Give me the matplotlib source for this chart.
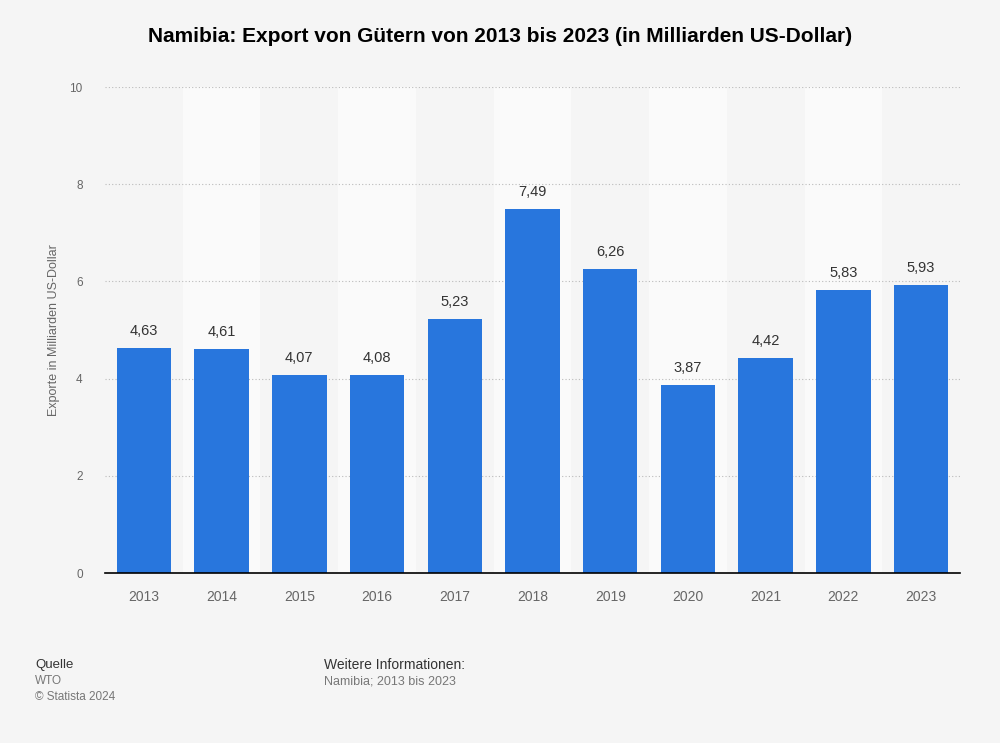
import matplotlib.pyplot as plt

# Daten
years = ['2013', '2014', '2015', '2016', '2017', '2018', '2019', '2020', '2021', '2022', '2023']
exports = [4.63, 4.61, 4.07, 4.08, 5.23, 7.49, 6.26, 3.87, 4.42, 5.83, 5.93]
yticks = [0, 2, 4, 6, 8, 10]

plt.rcParams['font.family'] = ['Liberation Sans', 'DejaVu Sans']

bg = '#f5f5f5'
fig = plt.figure(figsize=(10, 7.43), dpi=100, facecolor=bg)
ax = fig.add_axes([0.105, 0.2288, 0.855, 0.6541])
ax.set_facecolor(bg)

x = list(range(len(years)))

# abwechselnd helle Spalten
for i in x:
    if i % 2 == 1:
        ax.axvspan(i - 0.5, i + 0.5, color='#fafafa', zorder=0, lw=0)

ax.bar(x, exports, width=0.7, color='#2876dd', zorder=3)

for xi, v in zip(x, exports):
    ax.text(xi, v + 0.2, f'{v:.2f}'.replace('.', ','), ha='center', va='bottom',
            fontsize=10.5, color='#333333', zorder=4)

ax.set_xlim(-0.5, len(years) - 0.5)
ax.set_ylim(0, 10)
ax.set_yticks(yticks)
ax.set_yticklabels([str(t) for t in yticks])
ax.set_xticks(x)
ax.set_xticklabels(years)
ax.tick_params(axis='both', length=0, labelsize=10, labelcolor='#666666')
ax.tick_params(axis='y', pad=16, labelsize=8.5)
ax.tick_params(axis='x', pad=12)

ax.grid(axis='y', color='#bbbbbb', linestyle=(0, (1, 2)), linewidth=0.8, zorder=1)
for s in ['top', 'right', 'left']:
    ax.spines[s].set_visible(False)
ax.spines['bottom'].set_color('#000000')
ax.spines['bottom'].set_linewidth(1.2)
ax.spines['bottom'].set_zorder(5)

ax.set_ylabel('Exporte in Milliarden US-Dollar', fontsize=9, color='#666666')
ax.yaxis.set_label_coords(-0.053, 0.5)

fig.text(0.5, 1 - 36 / 743, 'Namibia: Export von Gütern von 2013 bis 2023 (in Milliarden US-Dollar)',
         ha='center', va='center', fontsize=15, fontweight='bold', color='#000000')

# Fußzeile
fig.text(0.035, 1 - 665 / 743, 'Quelle', fontsize=9.5, color='#333333', va='center')
fig.text(0.035, 1 - 681 / 743, 'WTO', fontsize=8.5, color='#777777', va='center')
fig.text(0.035, 1 - 697 / 743, '© Statista 2024', fontsize=8.5, color='#777777', va='center')
fig.text(0.324, 1 - 665 / 743, 'Weitere Informationen:', fontsize=10, color='#333333', va='center')
fig.text(0.324, 1 - 681 / 743, 'Namibia; 2013 bis 2023', fontsize=9, color='#777777', va='center')

fig.savefig('out.png', dpi=100, facecolor=bg)
